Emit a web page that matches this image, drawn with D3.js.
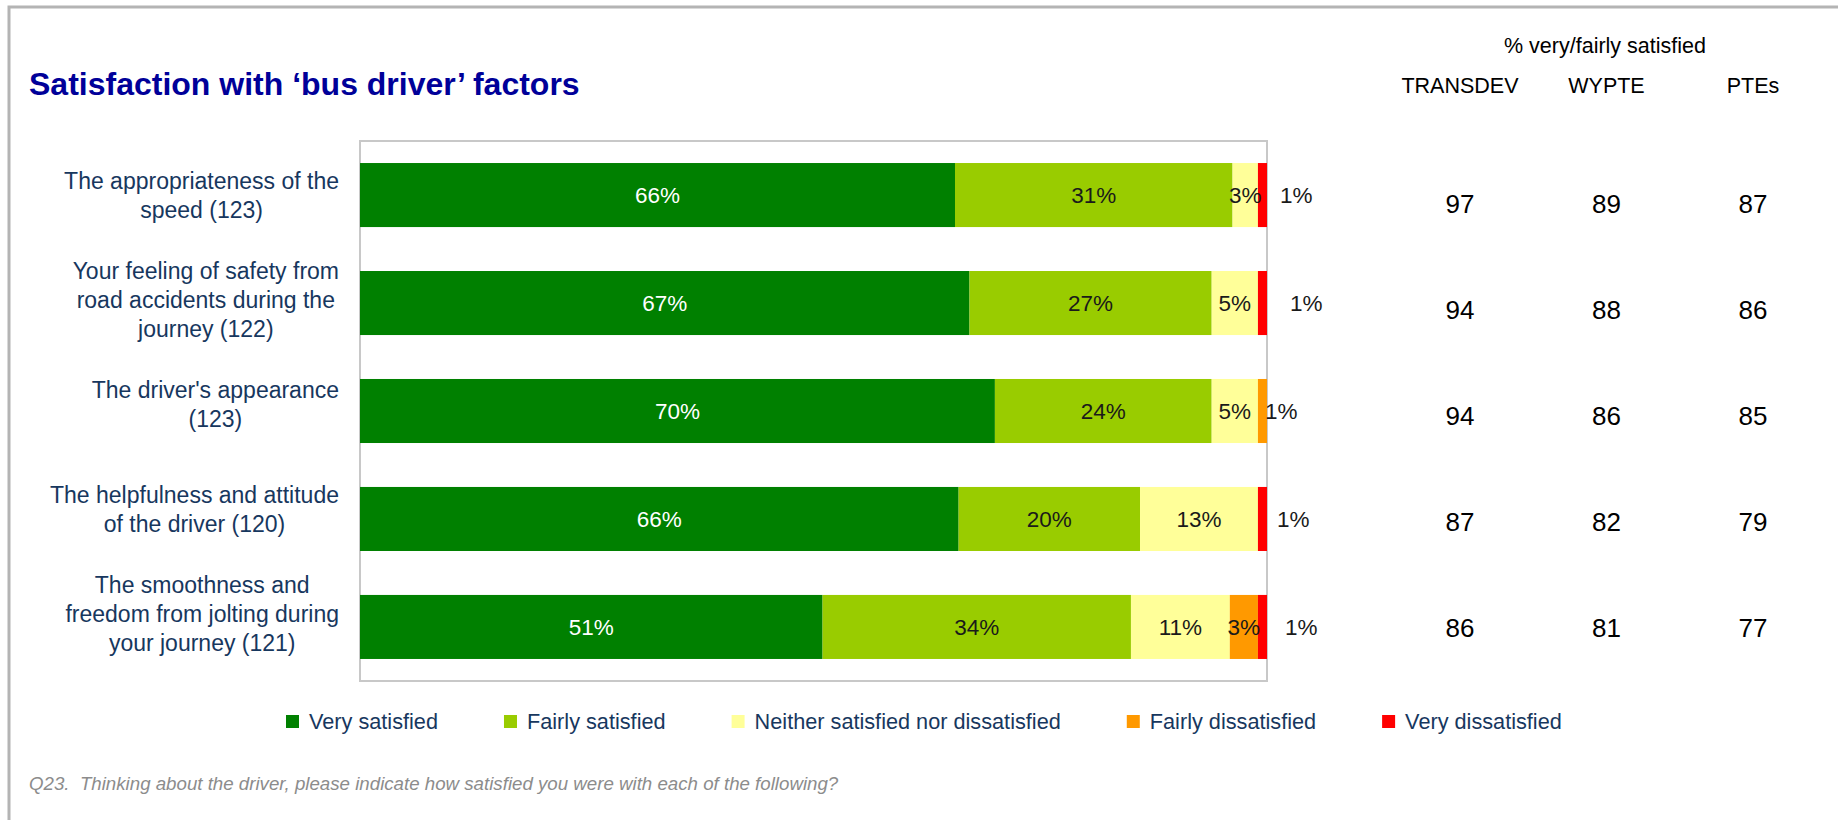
<!DOCTYPE html>
<html lang="en">

<head>
    <meta charset="UTF-8">
    <script src="https://cdnjs.cloudflare.com/ajax/libs/d3/7.9.0/d3.min.js"></script>
    <title>Satisfaction with bus driver factors</title>
    <style>
        body {
            margin: 0;
            background-color: white;
            font-family: "Liberation Sans", Arial, sans-serif;
        }

        svg {
            display: block;
        }
    </style>
</head>

<body>
    <div id="chart"></div>

    <script>
        const width = 1838;
        const height = 820;

        // Data
        const categories = [
            ["The appropriateness of the", "speed (123)"],
            ["Your feeling of safety from", "road accidents during the", "journey (122)"],
            ["The driver's appearance", "(123)"],
            ["The helpfulness and attitude", "of the driver (120)"],
            ["The smoothness and", "freedom from jolting during", "your journey (121)"]
        ];
        const seriesNames = [
            "Very satisfied", "Fairly satisfied", "Neither satisfied nor dissatisfied",
            "Fairly dissatisfied", "Very dissatisfied"
        ];
        const verySatisfied = [65.6, 67.2, 70.0, 66.0, 51.0];
        const fairlySatisfied = [30.6, 26.7, 23.9, 20.0, 34.0];
        const neitherNor = [2.8, 5.1, 5.1, 13.0, 10.9];
        const fairlyDissatisfied = [0, 0, 1.0, 0, 3.1];
        const veryDissatisfied = [1.0, 1.0, 0, 1.0, 1.0];

        const tableColumns = ["TRANSDEV", "WYPTE", "PTEs"];
        const transdev = [97, 94, 94, 87, 86];
        const wypte = [89, 88, 86, 82, 81];
        const ptes = [87, 86, 85, 79, 77];

        const colors = ["#008000", "#99CC00", "#FFFF99", "#FF9900", "#FF0000"];
        const navy = "#17375E";
        // how far the little end labels were pushed past the bar end
        const endLabelShift = [13, 23, -2, 10, 18];

        const rows = categories.map((c, i) => ({
            idx: i,
            [seriesNames[0]]: verySatisfied[i],
            [seriesNames[1]]: fairlySatisfied[i],
            [seriesNames[2]]: neitherNor[i],
            [seriesNames[3]]: fairlyDissatisfied[i],
            [seriesNames[4]]: veryDissatisfied[i]
        }));
        const stacked = d3.stack().keys(seriesNames)(rows);

        const plot = { left: 360, right: 1267, top: 141, bottom: 681 };

        const svg = d3.select("#chart")
            .append("svg")
            .attr("width", width)
            .attr("height", height);

        // outer frame (top + left edges)
        svg.append("path")
            .attr("d", `M9,${height} V7 H${width}`)
            .attr("fill", "none")
            .attr("stroke", "#b4b4b4")
            .attr("stroke-width", 3);

        svg.append("text")
            .attr("x", 29)
            .attr("y", 95)
            .attr("fill", "#000099")
            .style("font-size", "32px")
            .style("font-weight", "bold")
            .text("Satisfaction with \u2018bus driver\u2019 factors");

        const x = d3.scaleLinear().domain([0, 100]).range([plot.left, plot.right]);
        const y = d3.scaleBand()
            .domain(d3.range(categories.length))
            .range([plot.top, plot.bottom])
            .paddingInner(0.407)
            .paddingOuter(0.204);

        svg.append("rect")
            .attr("x", plot.left)
            .attr("y", plot.top)
            .attr("width", plot.right - plot.left)
            .attr("height", plot.bottom - plot.top)
            .attr("fill", "none")
            .attr("stroke", "#c8c8c8")
            .attr("stroke-width", 2);

        // stacked bars
        const layers = svg.selectAll(".layer")
            .data(stacked)
            .enter()
            .append("g")
            .attr("class", "layer")
            .attr("fill", (d, i) => colors[i]);

        layers.selectAll("rect")
            .data(d => d)
            .enter()
            .append("rect")
            .attr("x", d => x(d[0]))
            .attr("y", d => y(d.data.idx))
            .attr("width", d => x(d[1]) - x(d[0]))
            .attr("height", y.bandwidth());

        // value labels
        const lastKey = rows.map(r => {
            let k = 0;
            seriesNames.forEach((s, j) => { if (r[s] > 0) k = j; });
            return k;
        });

        stacked.forEach((layer, j) => {
            layer.forEach(d => {
                const v = d[1] - d[0];
                if (v <= 0) return;
                const i = d.data.idx;
                const outside = j === lastKey[i];
                svg.append("text")
                    .attr("x", outside ? x(100) + endLabelShift[i] : (x(d[0]) + x(d[1])) / 2)
                    .attr("y", y(i) + y.bandwidth() / 2)
                    .attr("dy", "0.35em")
                    .attr("text-anchor", outside ? "start" : "middle")
                    .attr("fill", j === 0 ? "white" : "#1a1a1a")
                    .style("font-size", "22.5px")
                    .text(Math.round(v) + "%");
            });
        });

        // category labels: lines centred within a right-aligned block
        const labelY = d3.scalePoint().domain(d3.range(categories.length)).range([195, 614]);
        const lineH = 29;
        categories.forEach((lines, i) => {
            const t = svg.append("text")
                .attr("fill", navy)
                .attr("text-anchor", "middle")
                .style("font-size", "23px");
            const spans = lines.map((ln, k) => t.append("tspan")
                .attr("y", labelY(i) + (k - (lines.length - 1) / 2) * lineH)
                .attr("dy", "0.35em")
                .text(ln));
            const maxW = d3.max(spans, s => s.node().getComputedTextLength());
            spans.forEach(s => s.attr("x", 339 - maxW / 2));
        });

        // table on the right
        const colX = d3.scalePoint().domain(tableColumns).range([1460, 1753]);
        const tableY = d3.scalePoint().domain(d3.range(categories.length)).range([204, 628]);
        const tableValues = [transdev, wypte, ptes];

        svg.append("text")
            .attr("x", 1605)
            .attr("y", 53)
            .attr("text-anchor", "middle")
            .style("font-size", "21.5px")
            .text("% very/fairly satisfied");

        svg.selectAll(".colhead")
            .data(tableColumns)
            .enter()
            .append("text")
            .attr("class", "colhead")
            .attr("x", d => colX(d))
            .attr("y", 93)
            .attr("text-anchor", "middle")
            .style("font-size", "21.5px")
            .text(d => d);

        tableColumns.forEach((c, ci) => {
            svg.selectAll(".num" + ci)
                .data(tableValues[ci])
                .enter()
                .append("text")
                .attr("x", colX(c))
                .attr("y", (d, i) => tableY(i))
                .attr("dy", "0.35em")
                .attr("text-anchor", "middle")
                .style("font-size", "26px")
                .text(d => d);
        });

        // legend
        let lx = 286;
        seriesNames.forEach((s, i) => {
            svg.append("rect")
                .attr("x", lx)
                .attr("y", 715)
                .attr("width", 13)
                .attr("height", 13)
                .attr("fill", colors[i]);
            const t = svg.append("text")
                .attr("x", lx + 23)
                .attr("y", 729)
                .attr("fill", navy)
                .style("font-size", "21.7px")
                .text(s);
            lx += 23 + t.node().getComputedTextLength() + 66;
        });

        svg.append("text")
            .attr("x", 29)
            .attr("y", 790)
            .attr("fill", "#8c8c8c")
            .style("font-size", "18.7px")
            .style("font-style", "italic")
            .attr("xml:space", "preserve")
            .text("Q23.  Thinking about the driver, please indicate how satisfied you were with each of the following?");
    </script>

</body>

</html>
